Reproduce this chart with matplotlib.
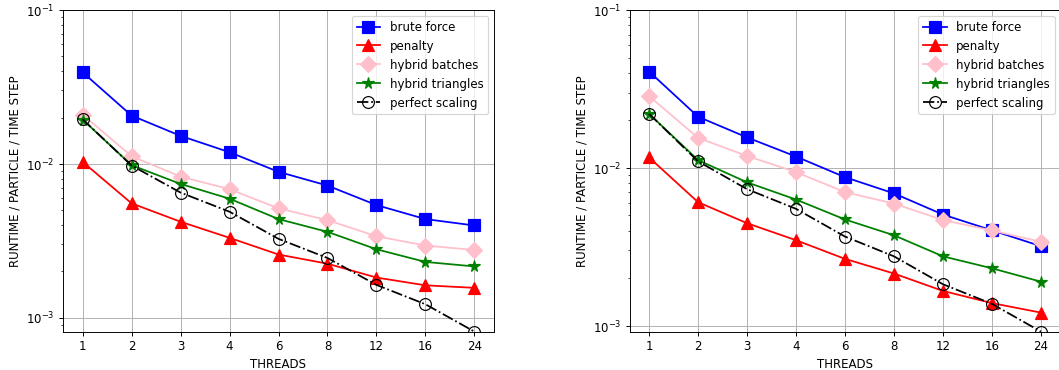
import numpy as np
import matplotlib
matplotlib.use("Agg")
import matplotlib.pyplot as plt

threads = [1, 2, 3, 4, 6, 8, 12, 16, 24]
thread_labels = [str(t) for t in threads]

# left panel
brute_a = [0.0394, 0.0206, 0.0152, 0.0119, 0.00887, 0.00722, 0.00539, 0.00437, 0.00397]
penalty_a = [0.0103, 0.00553, 0.0042, 0.0033, 0.00257, 0.00224, 0.00182, 0.00162, 0.00156]
batches_a = [0.0209, 0.0112, 0.00826, 0.00684, 0.00513, 0.0043, 0.00338, 0.00294, 0.00275]
triangles_a = [0.0194, 0.0098, 0.0074, 0.00593, 0.00437, 0.00361, 0.00278, 0.0023, 0.00215]
perfect_a = [0.0195, 0.00975, 0.0065, 0.00488, 0.00325, 0.00244, 0.00163, 0.00122, 0.00081]

# right panel
brute_b = [0.0408, 0.0211, 0.0156, 0.0118, 0.00873, 0.00689, 0.00506, 0.00402, 0.00319]
penalty_b = [0.01164, 0.00606, 0.00446, 0.00348, 0.00265, 0.00214, 0.00166, 0.00139, 0.00121]
batches_b = [0.0285, 0.0155, 0.0119, 0.0094, 0.00702, 0.00594, 0.00467, 0.00401, 0.0034]
triangles_b = [0.0220, 0.0112, 0.0081, 0.0063, 0.00471, 0.00374, 0.00275, 0.00231, 0.0019]
perfect_b = [0.022, 0.011, 0.00733, 0.0055, 0.00367, 0.00275, 0.00183, 0.001375, 0.000917]

DPI = 85
fig = plt.figure(figsize=(1059.4 / DPI, 370.4 / DPI), dpi=DPI)


def draw(ax, brute, penalty, batches, triangles, perfect):
    x = np.arange(len(threads))
    ax.plot(x, brute, 'b-', marker='s', ms=10, label='brute force')
    ax.plot(x, penalty, 'r-', marker='^', ms=10, label='penalty')
    ax.plot(x, batches, '-', color='pink', marker='D', ms=10, label='hybrid batches')
    ax.plot(x, triangles, 'g-', marker='*', ms=10, label='hybrid triangles')
    ax.plot(x, perfect, 'k-.', marker='o', ms=10, mfc='none', mec='k', label='perfect scaling')
    ax.set_yscale('log')
    ax.set_ylim(perfect[-1], 0.1)
    ax.set_xlim(-0.4, len(threads) - 0.6)
    ax.set_xticks(x)
    ax.set_xticklabels(thread_labels)
    ax.grid(True)
    ax.set_xlabel('THREADS')
    ax.set_ylabel('RUNTIME / PARTICLE / TIME STEP')
    ax.legend(loc='upper right')


W, H = 1059.4, 370.4
ax1 = fig.add_axes([63 / W, 38.4 / H, 431 / W, 321.5 / H])
ax2 = fig.add_axes([629.5 / W, 38.4 / H, 431 / W, 321.5 / H])
draw(ax1, brute_a, penalty_a, batches_a, triangles_a, perfect_a)
draw(ax2, brute_b, penalty_b, batches_b, triangles_b, perfect_b)

fig.savefig('out.png', dpi=DPI)
